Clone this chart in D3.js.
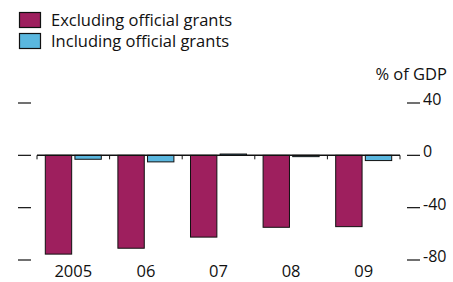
<!DOCTYPE html>
<html lang="en">
<head>
  <meta charset="UTF-8">
  <title>Balance, % of GDP</title>
  <script src="https://d3js.org/d3.v7.min.js"></script>
  <style>
    body { margin: 0; background: #fff; }
    text { font-family: "Open Sans", sans-serif; fill: #111; }
  </style>
</head>
<body>
  <svg width="453" height="282"></svg>
  <script>
    // Data
    const years = ['2005', '06', '07', '08', '09'];
    const excluding = [-75.5, -71, -62.5, -55, -54.5];
    const including = [-3, -5, 1, -1, -4];
    const ticks = [40, 0, -40, -80];

    const seriesNames = ['Excluding official grants', 'Including official grants'];
    const colors = ['#9e1f5e', '#5ab7df'];

    const svg = d3.select('svg');

    const x = d3.scaleBand().domain(years).range([37, 400]);
    const y = d3.scaleLinear().domain([-80, 40]).range([260, 103]);

    // Legend
    const legend = svg.append('g');
    seriesNames.forEach((name, i) => {
      legend.append('rect')
        .attr('x', 19.5).attr('y', 12.5 + i * 21)
        .attr('width', 21).attr('height', 15)
        .attr('fill', colors[i])
        .attr('stroke', '#111').attr('stroke-width', 1.2);
      legend.append('text')
        .attr('x', 51).attr('y', 25.5 + i * 21)
        .attr('font-size', 16.5)
        .text(name);
    });

    // Unit label
    svg.append('text')
      .attr('x', 447).attr('y', 80)
      .attr('text-anchor', 'end')
      .attr('font-size', 16.5)
      .text('% of GDP');

    // Tick marks on both sides, labels on the right
    svg.append('g').selectAll('line')
      .data(ticks).enter().append('line')
      .attr('x1', 18).attr('x2', 31)
      .attr('y1', d => y(d)).attr('y2', d => y(d))
      .attr('stroke', '#111').attr('stroke-width', 1.2);

    svg.append('g').selectAll('line')
      .data(ticks).enter().append('line')
      .attr('x1', 407).attr('x2', 420)
      .attr('y1', d => y(d)).attr('y2', d => y(d))
      .attr('stroke', '#111').attr('stroke-width', 1.2);

    svg.append('g').selectAll('text')
      .data(ticks).enter().append('text')
      .attr('x', 423).attr('y', d => y(d) + 2)
      .attr('font-size', 16)
      .text(d => d);

    // Bars
    const inner = d3.scaleBand().domain([0, 1]).range([0, x.bandwidth()])
      .paddingInner(0.11).paddingOuter(0.28);

    [excluding, including].forEach((vals, s) => {
      svg.append('g').selectAll('rect')
        .data(vals).enter().append('rect')
        .attr('x', (d, i) => x(years[i]) + inner(s))
        .attr('width', inner.bandwidth())
        .attr('y', d => y(Math.max(0, d)))
        .attr('height', d => Math.abs(y(d) - y(0)))
        .attr('fill', colors[s])
        .attr('stroke', '#111').attr('stroke-width', 1);
    });

    // Zero line with category ticks
    svg.append('line')
      .attr('x1', 37).attr('x2', 400)
      .attr('y1', y(0)).attr('y2', y(0))
      .attr('stroke', '#111').attr('stroke-width', 1.5);

    svg.append('g').selectAll('line')
      .data(years.concat(['end'])).enter().append('line')
      .attr('x1', (d, i) => i < years.length ? x(d) : x.range()[1])
      .attr('x2', (d, i) => i < years.length ? x(d) : x.range()[1])
      .attr('y1', y(0)).attr('y2', y(0) + 4)
      .attr('stroke', '#111').attr('stroke-width', 1);

    // Year labels
    svg.append('g').selectAll('text')
      .data(years).enter().append('text')
      .attr('x', d => x(d) + x.bandwidth() / 2)
      .attr('y', 277)
      .attr('text-anchor', 'middle')
      .attr('font-size', 16.5)
      .text(d => d);
  </script>
</body>
</html>
